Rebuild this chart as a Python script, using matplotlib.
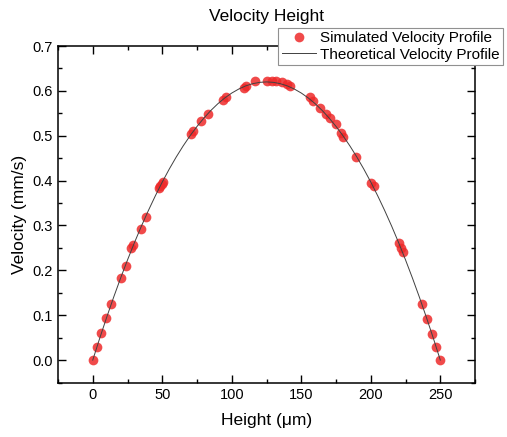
import matplotlib
matplotlib.use("Agg")
import matplotlib.pyplot as plt
from matplotlib.ticker import MultipleLocator

plt.rcParams['font.family'] = ['Liberation Sans', 'DejaVu Sans']

# simulated points
sim_height = [0, 3.3, 6.2, 9.8, 13.4, 20, 23.6, 27.5, 29.1, 34.4, 38.2,
              47.8, 48.6, 49.6, 50.6, 70.7, 72.1, 78.1, 82.9, 93.6, 95.5,
              108.9, 110.3, 116.8, 125.5, 128.7, 131.5, 135.9, 139.5, 141.8,
              156.2, 158.5, 163.3, 168.1, 170.5, 174.8, 178.4, 180, 189.6,
              200.3, 202, 220.1, 221.8, 223, 236.6, 240.5, 243.8, 246.9, 249.8]
sim_vel = [0, 0.03, 0.06, 0.093, 0.126, 0.184, 0.21, 0.25, 0.256, 0.292, 0.318,
           0.383, 0.387, 0.392, 0.397, 0.503, 0.51, 0.532, 0.548, 0.58, 0.587,
           0.606, 0.61, 0.621, 0.621, 0.621, 0.621, 0.619, 0.616, 0.611,
           0.586, 0.578, 0.561, 0.549, 0.539, 0.526, 0.506, 0.498, 0.453,
           0.395, 0.388, 0.26, 0.249, 0.242, 0.125, 0.091, 0.058, 0.03, 0]

# theoretical curve, every 5 um
theo_height = [0, 5, 10, 15, 20, 25, 30, 35, 40, 45, 50, 55, 60, 65, 70, 75,
               80, 85, 90, 95, 100, 105, 110, 115, 120, 125, 130, 135, 140,
               145, 150, 155, 160, 165, 170, 175, 180, 185, 190, 195, 200,
               205, 210, 215, 220, 225, 230, 235, 240, 245, 250]
theo_vel = [0, 0.0486, 0.0952, 0.1399, 0.1825, 0.2232, 0.2619, 0.2986, 0.3333,
            0.3660, 0.3968, 0.4256, 0.4524, 0.4772, 0.5000, 0.5208, 0.5396,
            0.5565, 0.5714, 0.5843, 0.5952, 0.6041, 0.6111, 0.6160, 0.6190,
            0.6200, 0.6190, 0.6160, 0.6111, 0.6041, 0.5952, 0.5843, 0.5714,
            0.5565, 0.5396, 0.5208, 0.5000, 0.4772, 0.4524, 0.4256, 0.3968,
            0.3660, 0.3333, 0.2986, 0.2619, 0.2232, 0.1825, 0.1399, 0.0952,
            0.0486, 0]

fig = plt.figure(figsize=(5.07, 4.37), dpi=100)
ax = fig.add_axes([0.1144, 0.1236, 0.8226, 0.7711])

ax.plot(sim_height, sim_vel, 'o', color='#ee2a2a', alpha=0.85, markersize=7,
        markeredgewidth=0, label='Simulated Velocity Profile', zorder=2)
ax.plot(theo_height, theo_vel, '-', color='#404040', linewidth=0.7,
        label='Theoretical Velocity Profile', zorder=3)

ax.set_xlim(-25, 275)
ax.set_ylim(-0.051, 0.7)
ax.xaxis.set_major_locator(MultipleLocator(50))
ax.xaxis.set_minor_locator(MultipleLocator(25))
ax.yaxis.set_major_locator(MultipleLocator(0.1))
ax.yaxis.set_minor_locator(MultipleLocator(0.05))
ax.yaxis.set_major_formatter(plt.FormatStrFormatter('%.1f'))
ax.tick_params(which='both', direction='in', top=True, right=True,
               labelsize=10.5, width=1)
ax.tick_params(which='major', length=5.5)
ax.tick_params(which='minor', length=3)
for s in ax.spines.values():
    s.set_linewidth(1.1)

ax.set_xlabel('Height (μm)', fontsize=12.5, labelpad=8)
ax.set_ylabel('Velocity (mm/s)', fontsize=12.5, labelpad=4)
ax.set_title('Velocity Height', fontsize=12.5, pad=18)

leg = ax.legend(loc='upper left', bbox_to_anchor=(0.549, 0.937),
                bbox_transform=fig.transFigure, fontsize=11, frameon=True,
                fancybox=False, edgecolor='#909090', framealpha=1,
                handlelength=2.2, borderpad=0.25, labelspacing=0.15,
                handletextpad=0.25, borderaxespad=0)
leg.get_frame().set_linewidth(0.8)

plt.savefig('out.png', dpi=100)
plt.close()
